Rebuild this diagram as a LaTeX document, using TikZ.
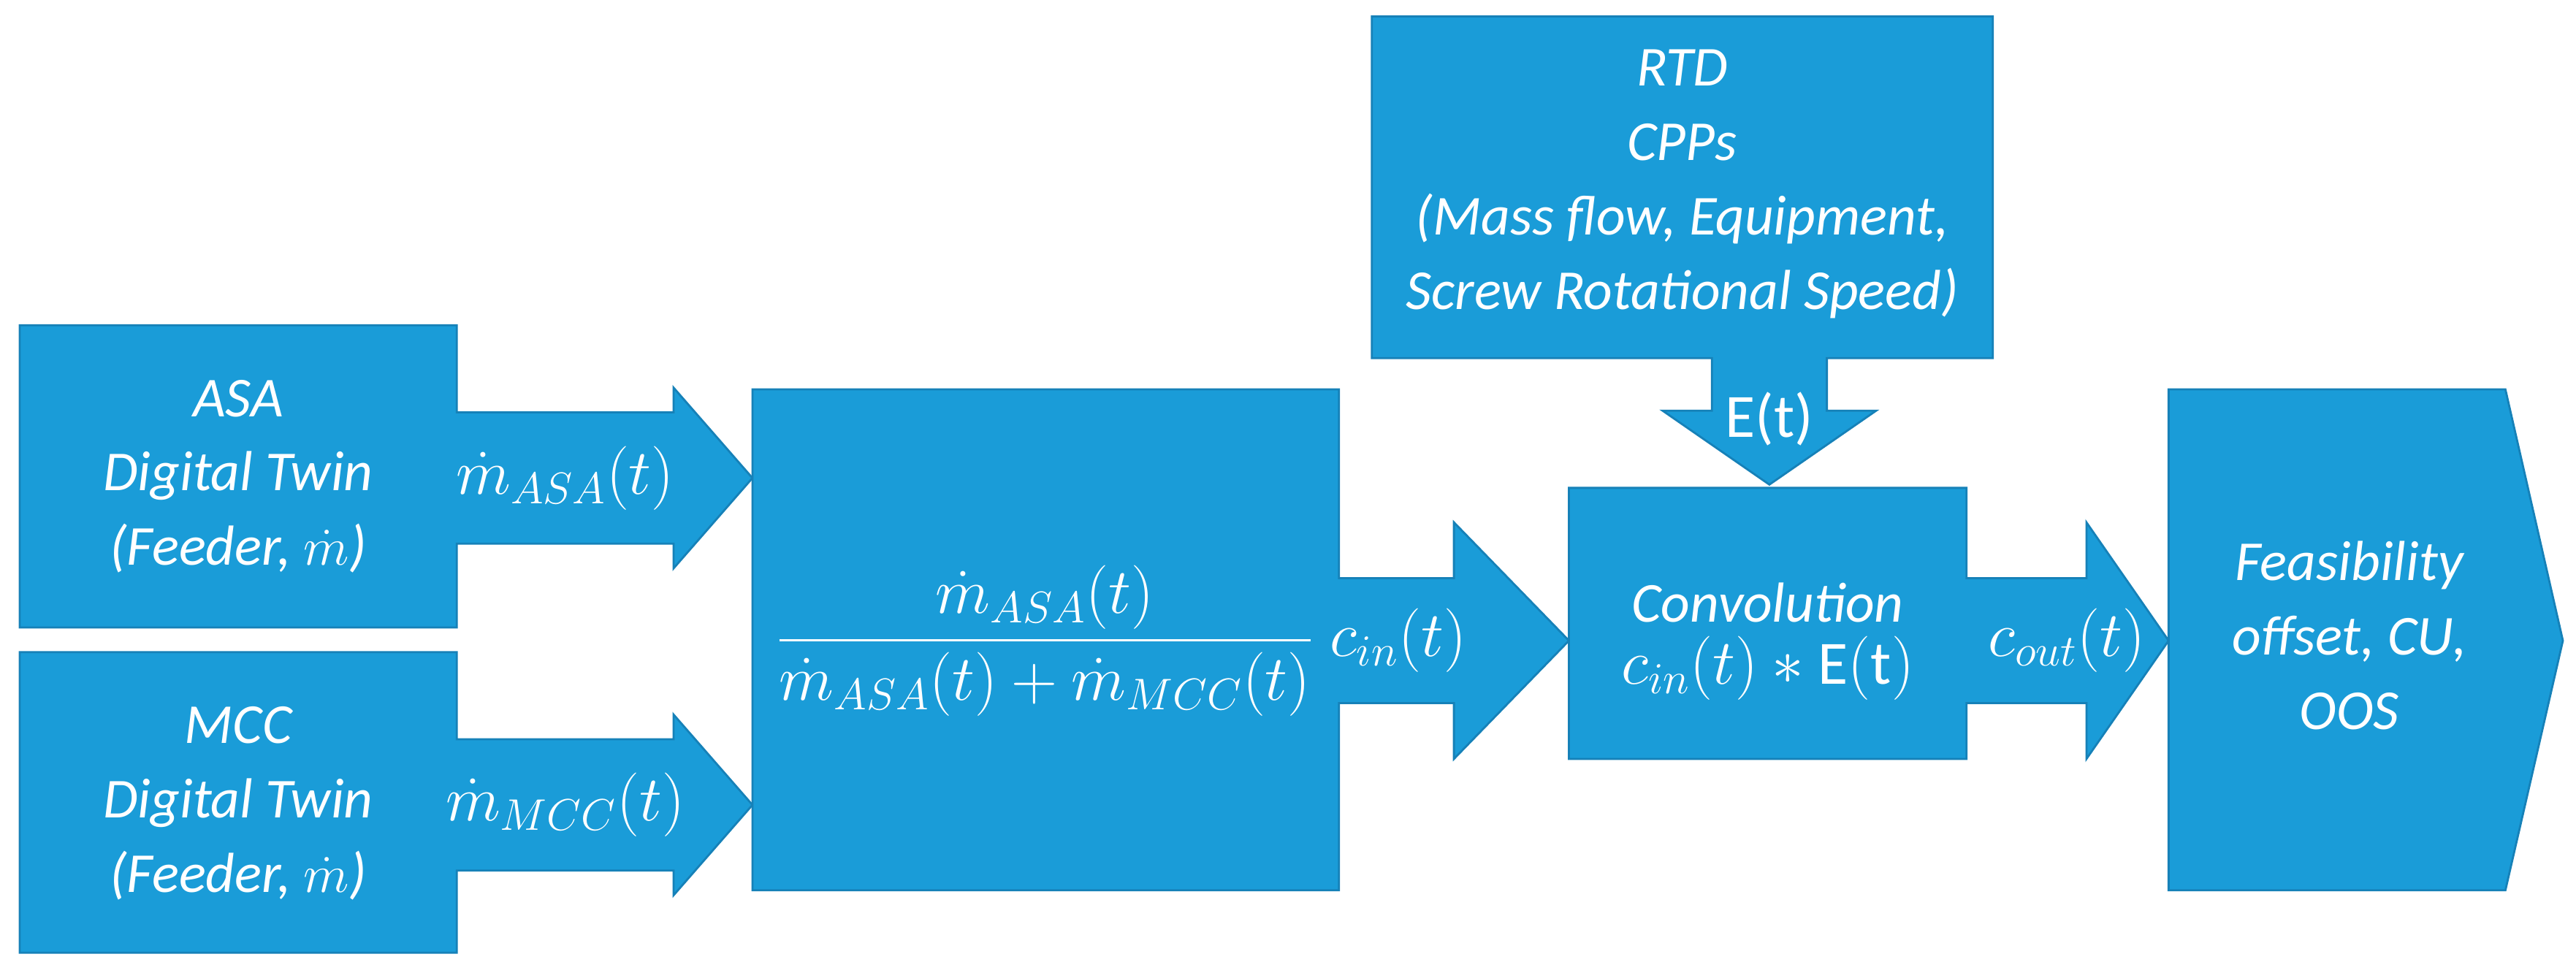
\documentclass[tikz,border=0pt]{standalone}
\usepackage{amsmath}
\usepackage{fontspec}
\setmainfont{Carlito}
\usetikzlibrary{positioning, calc}
\definecolor{flowblue}{HTML}{1A9CD8}
\definecolor{flowedge}{HTML}{1681B8}

\begin{document}
\begin{tikzpicture}[
    x=0.0225cm, y=-0.0225cm,
    flowshape/.style={fill=flowblue, draw=flowedge, line width=0.8pt, line join=miter},
    txt/.style={text=white, align=center, inner sep=1pt, font=\fontsize{22}{29}\selectfont\itshape},
    lbl/.style={text=white, inner sep=1pt, font=\fontsize{24}{29}\selectfont}
]
\useasboundingbox (0,0) rectangle (1568,592);

% ASA feeder with arrow
\filldraw[flowshape] (12,198) -- (278,198) -- (278,251) -- (410,251) -- (410,236) -- (458,291)
    -- (410,346) -- (410,331) -- (278,331) -- (278,382) -- (12,382) -- cycle;
\node[txt] (asa) at (145,290) {ASA\\Digital Twin\\(Feeder, $\dot m$)};
\node[lbl] (masa) at (344,291) {$\dot m_{ASA}(t)$};

% MCC feeder with arrow
\filldraw[flowshape] (12,397) -- (278,397) -- (278,450) -- (410,450) -- (410,435) -- (458,490)
    -- (410,545) -- (410,530) -- (278,530) -- (278,580) -- (12,580) -- cycle;
\node[txt] (mcc) at (145,489) {MCC\\Digital Twin\\(Feeder, $\dot m$)};
\node[lbl] (mmcc) at (344,490) {$\dot m_{MCC}(t)$};

% Mixing ratio with arrow
\filldraw[flowshape] (458,237) -- (815,237) -- (815,352) -- (885,352) -- (885,318) -- (955,390)
    -- (885,462) -- (885,428) -- (815,428) -- (815,542) -- (458,542) -- cycle;
\node[lbl] (ratio) at (636,390) {$\dfrac{\dot m_{ASA}(t)}{\dot m_{ASA}(t)+\dot m_{MCC}(t)}$};
\node[lbl] (cin) at (851,390) {$c_{in}(t)$};

% RTD with down arrow
\filldraw[flowshape] (835,10) -- (1213,10) -- (1213,218) -- (1112,218) -- (1112,250) -- (1142,250)
    -- (1077,295) -- (1012,250) -- (1042,250) -- (1042,218) -- (835,218) -- cycle;
\node[txt] (rtd) at (1024,112) {RTD\\CPPs\\(Mass flow, Equipment,\\Screw Rotational Speed)};
\node[lbl] (et) at (1077,255) {E(t)};

% Convolution with arrow
\filldraw[flowshape] (955,297) -- (1197,297) -- (1197,352) -- (1270,352) -- (1270,318) -- (1320,390)
    -- (1270,462) -- (1270,428) -- (1197,428) -- (1197,462) -- (955,462) -- cycle;
\node[txt] (conv) at (1076,367) {Convolution};
\node[lbl, below=3pt of conv] (convf) {$c_{in}(t)*\mathrm{E(t)}$};
\node[lbl] (cout) at (1258,390) {$c_{out}(t)$};

% Outputs
\filldraw[flowshape] (1320,237) -- (1525,237) -- (1560,390) -- (1525,542) -- (1320,542) -- cycle;
\node[txt] (feas) at (1430,387) {Feasibility\\offset, CU,\\OOS};

\end{tikzpicture}
\end{document}
